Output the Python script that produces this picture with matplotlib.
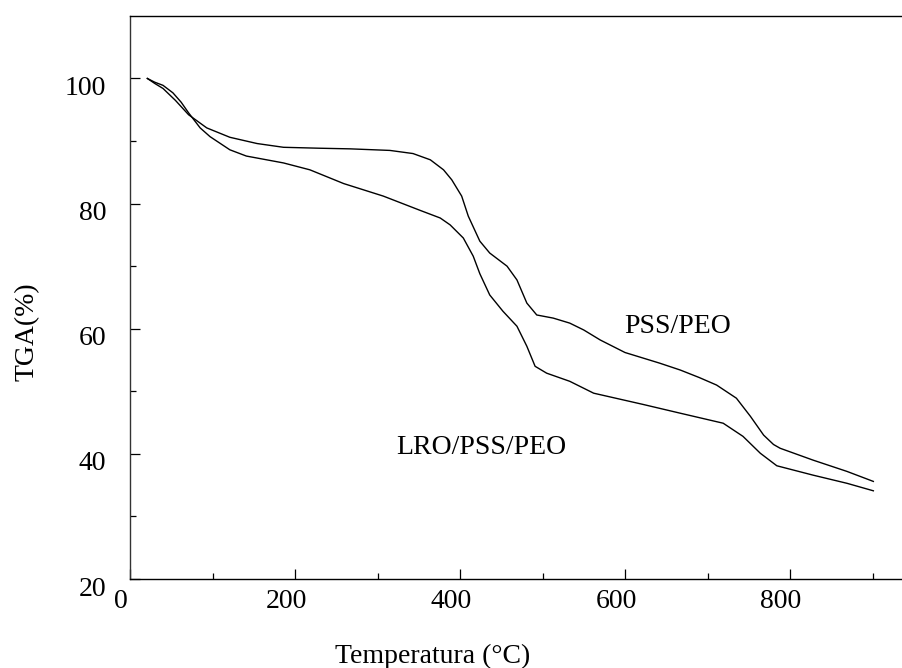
import numpy as np
import matplotlib
matplotlib.use("Agg")
import matplotlib.pyplot as plt
from matplotlib.ticker import MultipleLocator, FixedLocator
from matplotlib.transforms import ScaledTranslation

plt.rcParams['font.family'] = ['Liberation Serif', 'DejaVu Serif']

# PSS/PEO
temp_pss = [21, 30, 40, 55, 71, 93, 121, 154, 186, 230, 267, 315, 343, 364,
            380, 390, 402, 410, 424, 436, 447, 457, 469, 481, 493, 513, 533,
            550, 570, 600, 642, 667, 690, 711, 735, 752, 768, 780, 788, 828,
            869, 901]
tga_pss = [100, 99.2, 98.4, 96.5, 94.2, 92.1, 90.6, 89.6, 89.0, 88.85, 88.75,
           88.5, 88.0, 87.0, 85.4, 83.8, 81.2, 78.0, 74.0, 72.1, 71.0, 70.0,
           67.8, 64.1, 62.2, 61.7, 60.9, 59.8, 58.2, 56.2, 54.5, 53.4, 52.2,
           51.0, 48.9, 46.0, 43.0, 41.5, 40.9, 39.0, 37.2, 35.6]

# LRO/PSS/PEO
temp_lro = [21, 30, 40, 52, 62, 71, 85, 97, 121, 141, 186, 218, 259, 307,
            352, 376, 388, 404, 416, 424, 436, 452, 469, 481, 491, 505, 533,
            562, 622, 667, 719, 743, 764, 784, 828, 869, 901]
tga_lro = [100, 99.4, 98.9, 97.7, 96.2, 94.5, 92.1, 90.7, 88.6, 87.6, 86.5,
           85.4, 83.2, 81.2, 78.9, 77.7, 76.6, 74.5, 71.6, 68.8, 65.4, 62.8,
           60.4, 57.2, 54.0, 52.9, 51.6, 49.7, 47.9, 46.5, 44.9, 42.8, 40.1,
           38.1, 36.6, 35.3, 34.1]

fig = plt.figure(figsize=(9.03, 6.68), dpi=100)
ax = fig.add_axes([0.144, 0.1332, 0.9136, 0.843])

ax.plot(temp_pss, tga_pss, color='black', lw=1.0, solid_joinstyle='round')
ax.plot(temp_lro, tga_lro, color='black', lw=1.0, solid_joinstyle='round')

ax.set_xlim(0, 1000)
ax.set_ylim(20, 110)
ax.xaxis.set_major_locator(FixedLocator([0, 200, 400, 600, 800]))
ax.xaxis.set_minor_locator(FixedLocator([100, 300, 500, 700, 900]))
ax.yaxis.set_major_locator(FixedLocator([20, 40, 60, 80, 100]))
ax.yaxis.set_minor_locator(FixedLocator([30, 50, 70, 90]))

ax.tick_params(which='both', direction='in', top=False, right=False,
               labelsize=20)
ax.tick_params(which='major', length=7.2, width=0.9)
ax.tick_params(which='minor', length=4.3, width=0.9)
ax.tick_params(axis='x', pad=7)
ax.tick_params(axis='y', pad=17)

for sp in ax.spines.values():
    sp.set_linewidth(1.0)
ax.spines['left'].set_color('#333333')

# tick labels sit a little off their ticks in the original
dx = ScaledTranslation(-9 / 100, 0, fig.dpi_scale_trans)
dy = ScaledTranslation(0, -7 / 100, fig.dpi_scale_trans)
for lab in ax.get_xticklabels():
    lab.set_transform(lab.get_transform() + dx)
for lab in ax.get_yticklabels():
    lab.set_transform(lab.get_transform() + dy)

ax.set_xlabel('Temperatura (°C)', fontsize=20, va='baseline')
ax.xaxis.set_label_coords(0.3673, -0.149)
ax.set_ylabel('TGA(%)', fontsize=20, va='center')
ax.yaxis.set_label_coords(-0.125, 0.44)

ax.text(664, 59.3, 'PSS/PEO', fontsize=20, ha='center', va='baseline')
ax.text(426, 40.0, 'LRO/PSS/PEO', fontsize=20, ha='center', va='baseline')

fig.savefig('out.png', dpi=100)
